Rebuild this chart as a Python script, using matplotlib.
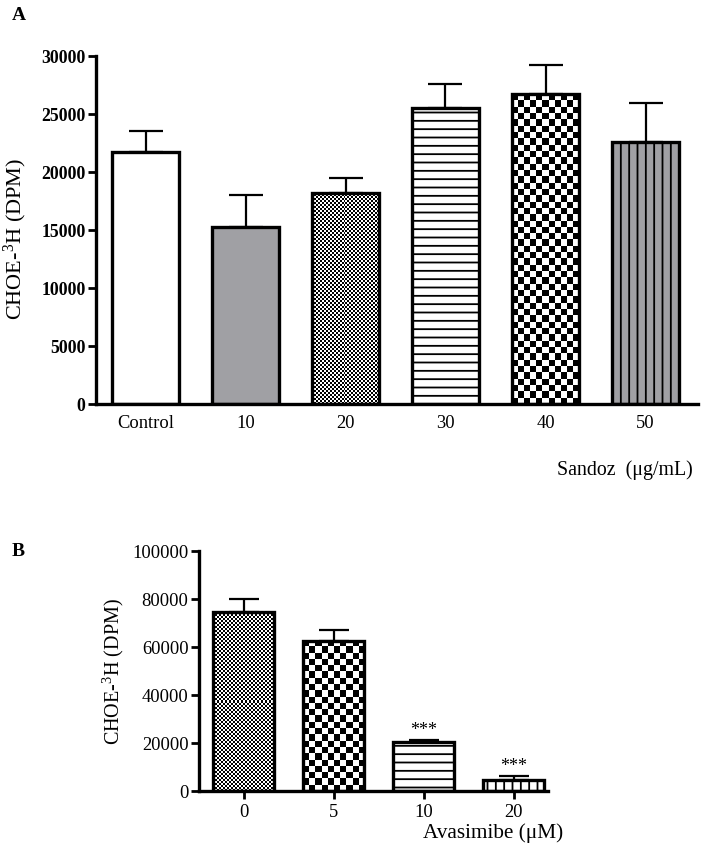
import numpy as np
import matplotlib
matplotlib.use('Agg')
from matplotlib import pyplot as plt

plt.rcParams['font.family'] = ['Liberation Serif', 'DejaVu Serif']
plt.rcParams['mathtext.fontset'] = 'custom'
plt.rcParams['mathtext.rm'] = 'Liberation Serif'
plt.rcParams['mathtext.it'] = 'Liberation Serif:italic'
plt.rcParams['hatch.linewidth'] = 1.3

# panel A data
a_labels = ['Control', '10', '20', '30', '40', '50']
a_vals = [21750, 15230, 18190, 25490, 26700, 22610]
a_errs = [1810, 2760, 1290, 2070, 2520, 3360]
a_ticks = [0, 5000, 10000, 15000, 20000, 25000, 30000]

# panel B data
b_labels = ['0', '5', '10', '20']
b_vals = [74450, 62600, 20550, 4700]
b_errs = [5550, 4480, 850, 1550]
b_ticks = [0, 20000, 40000, 60000, 80000, 100000]
b_stars = ['', '', '***', '***']

GRAY = '#a0a0a4'
W, H = 701, 853
YLAB = 'CHOE-$^{3}$H (DPM)'


def checker(ax, bar, cell):
    x0, y0 = bar.get_x(), bar.get_y()
    x1, y1 = x0 + bar.get_width(), y0 + bar.get_height()
    (px0, py0), (px1, py1) = ax.transData.transform([(x0, y0), (x1, y1)])
    nx = max(1, int(round((px1 - px0) / cell)))
    ny = max(1, int(round((py1 - py0) / cell)))
    arr = np.indices((ny, nx)).sum(axis=0) % 2
    im = ax.imshow(arr, cmap='gray', extent=[x0, x1, y0, y1], aspect='auto',
                   interpolation='nearest', zorder=2.5)
    im.set_clip_path(bar)


def draw(ax, vals, errs, styles, width, lw, capsize):
    x = np.arange(len(vals))
    ax.errorbar(x, vals, yerr=[np.zeros(len(vals)), errs], fmt='none', ecolor='black',
                elinewidth=1.6, capsize=capsize, capthick=1.6, zorder=1)
    for i, (v, st) in enumerate(zip(vals, styles)):
        kind, fc = st
        hatch = {'h': '--', 'v': '||'}.get(kind)
        b = ax.bar(i, v, width, color=fc, edgecolor='black', linewidth=0,
                   hatch=hatch, zorder=2)[0]
        if kind == 'cf':
            checker(ax, b, 2)
        elif kind == 'cl':
            checker(ax, b, 6.3)
        ax.bar(i, v, width, facecolor='none', edgecolor='black', linewidth=lw, zorder=3)
    return x


fig = plt.figure(figsize=(W / 100, H / 100), dpi=100)

# ---- A ----
axa = fig.add_axes([96 / W, (H - 405) / H, 602 / W, 348 / H])
axa.set_xlim(-0.495, 5.525)
axa.set_ylim(0, 30000)
sty_a = [('s', 'white'), ('s', GRAY), ('cf', 'white'), ('h', 'white'), ('cl', 'white'), ('v', GRAY)]
xa = draw(axa, a_vals, a_errs, sty_a, 0.67, 2.4, 12)
axa.set_xlim(-0.495, 5.525)
axa.set_ylim(0, 30000)
axa.set_xticks(xa)
axa.set_xticklabels(a_labels, fontsize=13.3)
axa.set_yticks(a_ticks)
axa.set_yticklabels([str(t) for t in a_ticks], fontsize=12.8, fontweight='bold')
axa.tick_params(axis='x', length=0, pad=7)
axa.tick_params(axis='y', length=6, width=2, pad=1.5)
for s in ['top', 'right']:
    axa.spines[s].set_visible(False)
for s in ['left', 'bottom']:
    axa.spines[s].set_linewidth(2.4)

fig.text(15 / W, 1 - 239 / H, YLAB, rotation=90, ha='center', va='center', fontsize=16)
fig.text(625 / W, 1 - 470 / H, 'Sandoz  (μg/mL)', ha='center', va='center', fontsize=14.3)
fig.text(12 / W, 1 - 16 / H, 'A', ha='left', va='center', fontsize=14, fontweight='bold')

# ---- B ----
axb = fig.add_axes([199 / W, (H - 792) / H, 349 / W, 240 / H])
axb.set_xlim(-0.494, 3.38)
axb.set_ylim(0, 100000)
sty_b = [('cf', 'white'), ('cl', 'white'), ('h', 'white'), ('v', 'white')]
xb = draw(axb, b_vals, b_errs, sty_b, 0.68, 2.4, 11)
axb.set_xlim(-0.494, 3.38)
axb.set_ylim(0, 100000)
axb.set_xticks(xb)
axb.set_xticklabels(b_labels, fontsize=13.3)
axb.set_yticks(b_ticks)
axb.set_yticklabels([str(t) for t in b_ticks], fontsize=13.3)
axb.tick_params(axis='x', length=6, width=2, pad=3)
axb.tick_params(axis='y', length=6, width=2, pad=1.5)
for s in ['top', 'right']:
    axb.spines[s].set_visible(False)
for s in ['left', 'bottom']:
    axb.spines[s].set_linewidth(2.4)
for i, (v, e, s) in enumerate(zip(b_vals, b_errs, b_stars)):
    if s:
        axb.text(i, v + e + 700, s, ha='center', va='bottom', fontsize=13)

fig.text(113 / W, 1 - 672 / H, YLAB, rotation=90, ha='center', va='center', fontsize=14.5)
fig.text(493 / W, 1 - 833 / H, 'Avasimibe (μM)', ha='center', va='center', fontsize=15.3)
fig.text(12 / W, 1 - 552 / H, 'B', ha='left', va='center', fontsize=14, fontweight='bold')

fig.savefig('out.png', dpi=100)
